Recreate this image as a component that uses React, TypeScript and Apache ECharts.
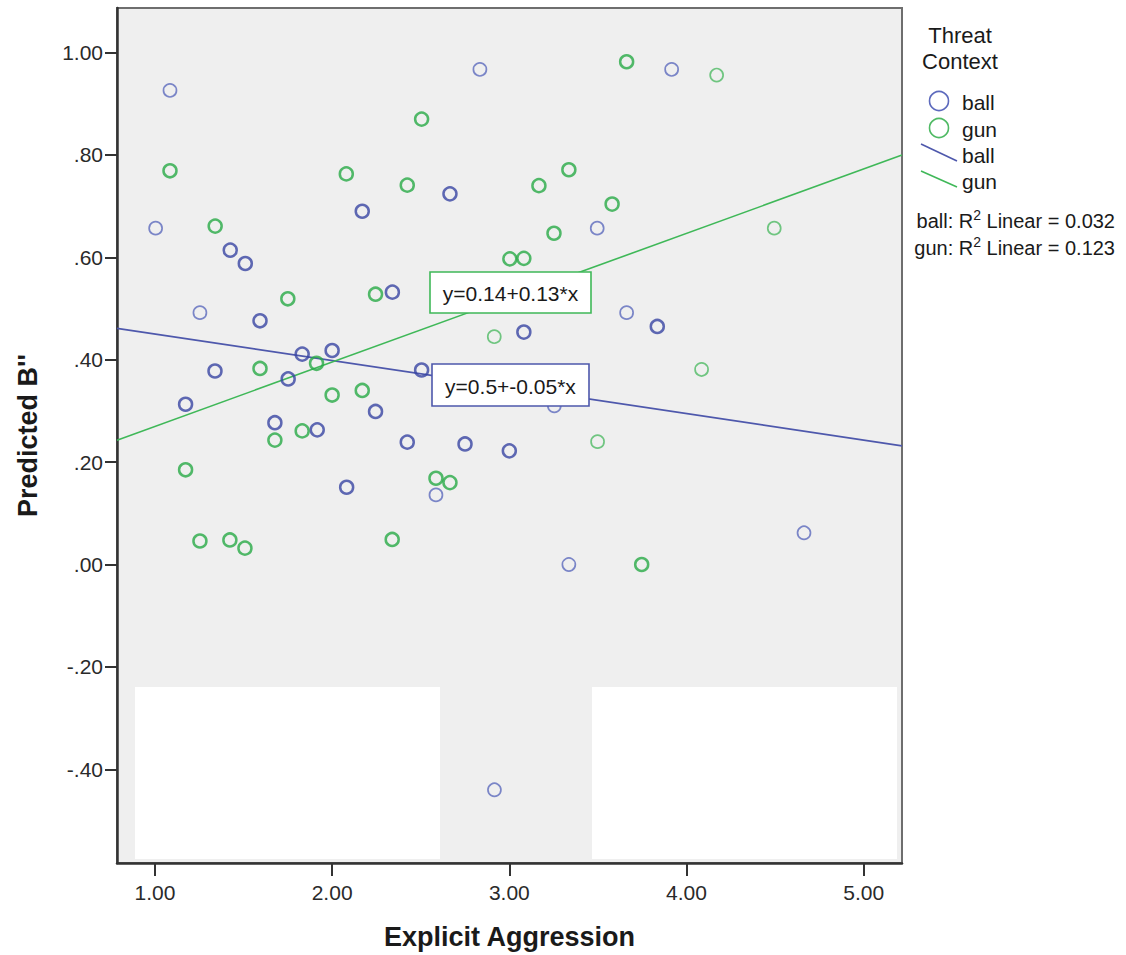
import { useEffect, useRef } from 'react';
import * as echarts from 'echarts';

// ---- data ----
const ballX = [1.085, 2.834, 3.916, 1.004, 1.425, 1.51, 2.17, 2.665, 3.496, 2.34, 1.254, 1.593, 3.082, 3.662, 3.835, 1.831, 2.0, 2.505, 1.339, 1.752, 1.173, 3.254, 2.245, 1.677, 1.916, 2.424, 2.75, 3.0, 2.082, 2.586, 3.336, 4.663, 2.916];
const ballY = [0.926, 0.967, 0.967, 0.657, 0.614, 0.588, 0.69, 0.724, 0.657, 0.532, 0.492, 0.476, 0.454, 0.492, 0.465, 0.411, 0.418, 0.38, 0.378, 0.3625, 0.313, 0.31, 0.299, 0.277, 0.263, 0.239, 0.2355, 0.222, 0.151, 0.136, 0.0, 0.062, -0.44];
const ballOverlap = [1, 1, 1, 1, 2, 2, 2, 2, 1, 2, 1, 2, 2, 1, 2, 2, 2, 2, 2, 2, 2, 1, 2, 2, 2, 2, 2, 2, 2, 1, 1, 1, 1];

const gunX = [3.662, 4.17, 2.505, 1.085, 2.08, 2.424, 3.167, 3.336, 3.58, 1.34, 3.252, 4.495, 3.003, 3.082, 2.245, 1.75, 2.915, 1.912, 1.593, 4.085, 2.0, 2.17, 1.677, 1.831, 3.498, 1.173, 2.586, 2.665, 1.254, 1.423, 1.508, 2.339, 3.747];
const gunY = [0.982, 0.956, 0.87, 0.769, 0.763, 0.741, 0.74, 0.771, 0.704, 0.661, 0.647, 0.657, 0.597, 0.598, 0.528, 0.519, 0.445, 0.393, 0.383, 0.381, 0.331, 0.34, 0.243, 0.261, 0.24, 0.185, 0.1685, 0.16, 0.046, 0.048, 0.032, 0.049, 0.0];
const gunOverlap = [2, 1, 2, 2, 2, 2, 2, 2, 2, 2, 2, 1, 2, 2, 2, 2, 1, 2, 2, 1, 2, 2, 2, 2, 1, 2, 2, 2, 2, 2, 2, 2, 2];

// regression fits: [intercept, slope]
const ballFit = [0.502, -0.0518];
const gunFit = [0.144, 0.1257];

const xRange = [0.786, 5.216];
const yRange = [-0.583, 1.087];
const xTicks = [1, 2, 3, 4, 5];
const yTicks = [-0.4, -0.2, 0, 0.2, 0.4, 0.6, 0.8, 1.0];

const groupNames = ['ball', 'gun'];
const fitTexts = ['y=0.5+-0.05*x', 'y=0.14+0.13*x'];
const r2Values = ['0.032', '0.123'];

// ---- styles ----
const FONT = '"Liberation Sans", Arial, sans-serif';
const BALL_DARK = '#3845a2';
const BALL_LIGHT = '#5d6abd';
const GUN_DARK = '#28aa46';
const GUN_LIGHT = '#4fba64';
const BALL_LINE = '#4e58ac';
const GUN_LINE = '#3fb858';

function fmtY(v: number) {
  const s = Math.abs(v).toFixed(2);
  const t = s.startsWith('0') ? s.slice(1) : s;
  return (v < -1e-9 ? '-' : '') + t;
}

function points(xs: number[], ys: number[], ov: number[], dark: string, light: string) {
  return xs.map((x, i) => ({
    value: [x, ys[i]],
    itemStyle: {
      borderColor: ov[i] > 1 ? dark : light,
      borderWidth: ov[i] > 1 ? 2.5 : 1.7,
    },
  }));
}

function fitLine(fit: number[]) {
  return [
    [xRange[0], fit[0] + fit[1] * xRange[0]],
    [xRange[1], fit[0] + fit[1] * xRange[1]],
  ];
}

export default function App() {
  const ref = useRef<HTMLDivElement>(null);
  useEffect(() => {
    const chart = echarts.init(ref.current!, null, { renderer: 'svg' });
    const gl = 117, gt = 8, gw = 785, gh = 855;
    const txt = (text: string, x: number, y: number, size: number, align = 'left', extra: any = {}) => ({
      type: 'text',
      z: 20,
      style: {
        text, x, y,
        fill: '#1a1a1a',
        font: `${size}px ${FONT}`,
        textAlign: align, textVerticalAlign: 'middle',
        align, verticalAlign: 'middle',
        ...extra,
      },
    });
    const r2Text = (name: string, val: string, y: number) => ({
      type: 'text',
      z: 20,
      style: {
        text: `{a|${name}: R}{b|2}{a| Linear = ${val}}`,
        x: 1115, y,
        align: 'right', verticalAlign: 'middle',
        textAlign: 'right', textVerticalAlign: 'middle',
        rich: {
          a: { fontSize: 20, fontFamily: FONT, fill: '#1a1a1a', color: '#1a1a1a', lineHeight: 23, verticalAlign: 'bottom' },
          b: { fontSize: 14, fontFamily: FONT, fill: '#1a1a1a', color: '#1a1a1a', lineHeight: 23, verticalAlign: 'top' },
        },
      },
    });
    const box = (text: string, x: number, y: number, w: number, h: number, stroke: string) => ({
      type: 'group',
      z: 15,
      children: [
        { type: 'rect', z: 15, shape: { x, y, width: w, height: h }, style: { fill: '#ffffff', stroke, lineWidth: 1.6 } },
        txt(text, x + w / 2, y + h / 2 + 1, 21, 'center'),
      ],
    });

    const option: any = {
      animation: false,
      backgroundColor: '#ffffff',
      grid: { left: gl, top: gt, width: gw, height: gh, show: false, containLabel: false, outerBoundsMode: 'none' },
      xAxis: {
        type: 'value',
        min: xRange[0], max: xRange[1],
        name: 'Explicit Aggression',
        nameLocation: 'middle', nameGap: 60,
        nameTextStyle: { fontFamily: FONT, fontWeight: 'bold', fontSize: 27, color: '#1a1a1a' },
        axisLine: { show: true, onZero: false, lineStyle: { color: '#333', width: 2.5 } },
        axisTick: { show: true, length: 13, customValues: xTicks, lineStyle: { color: '#333', width: 2 } },
        axisLabel: { customValues: xTicks, formatter: (v: number) => v.toFixed(2), margin: 19, fontFamily: FONT, fontSize: 21, color: '#2a2a2a' },
        splitLine: { show: false },
      },
      yAxis: {
        type: 'value',
        min: yRange[0], max: yRange[1],
        name: "Predicted B''",
        nameLocation: 'middle', nameGap: 76, nameRotate: 90,
        nameTextStyle: { fontFamily: FONT, fontWeight: 'bold', fontSize: 27, color: '#1a1a1a' },
        axisLine: { show: true, onZero: false, lineStyle: { color: '#333', width: 2.5 } },
        axisTick: { show: true, length: 12, customValues: yTicks, lineStyle: { color: '#333', width: 2 } },
        axisLabel: { customValues: yTicks, formatter: fmtY, margin: 14, fontFamily: FONT, fontSize: 21, color: '#2a2a2a' },
        splitLine: { show: false },
      },
      graphic: [
        { type: 'rect', z: -10, silent: true, shape: { x: gl, y: gt, width: gw, height: gh }, style: { fill: '#efefef' } },
        { type: 'rect', z: -9, silent: true, shape: { x: 135, y: 687, width: 305, height: 172 }, style: { fill: '#ffffff' } },
        { type: 'rect', z: -9, silent: true, shape: { x: 592, y: 687, width: 305, height: 172 }, style: { fill: '#ffffff' } },
        { type: 'rect', z: -1, silent: true, shape: { x: gl, y: gt, width: gw, height: gh }, style: { fill: 'none', stroke: '#6e6e6e', lineWidth: 2 } },
        box(fitTexts[1], 430, 272, 161, 41, GUN_LINE),
        box(fitTexts[0], 432, 364, 157, 42, BALL_LINE),
        // legend
        txt('Threat', 960, 35, 22, 'center'),
        txt('Context', 960, 61, 22, 'center'),
        { type: 'circle', z: 20, shape: { cx: 939, cy: 101, r: 9.5 }, style: { fill: 'none', stroke: BALL_LIGHT, lineWidth: 1.6 } },
        txt(groupNames[0], 962, 102, 21),
        { type: 'circle', z: 20, shape: { cx: 939, cy: 128, r: 9.5 }, style: { fill: 'none', stroke: GUN_LIGHT, lineWidth: 1.6 } },
        txt(groupNames[1], 962, 129, 21),
        { type: 'line', z: 20, shape: { x1: 921, y1: 144, x2: 957, y2: 161 }, style: { stroke: BALL_LINE, lineWidth: 1.6 } },
        txt(groupNames[0], 962, 155, 21),
        { type: 'line', z: 20, shape: { x1: 921, y1: 171, x2: 957, y2: 187 }, style: { stroke: GUN_LINE, lineWidth: 1.6 } },
        txt(groupNames[1], 962, 181, 21),
        r2Text(groupNames[0], r2Values[0], 219),
        r2Text(groupNames[1], r2Values[1], 246),
      ],
      series: [
        {
          name: 'ball fit', type: 'line', data: fitLine(ballFit), showSymbol: false, silent: true, z: 1,
          lineStyle: { color: BALL_LINE, width: 1.6 },
        },
        {
          name: 'gun fit', type: 'line', data: fitLine(gunFit), showSymbol: false, silent: true, z: 1,
          lineStyle: { color: GUN_LINE, width: 1.6 },
        },
        {
          name: 'ball', type: 'scatter', symbol: 'circle', symbolSize: 13, z: 3,
          itemStyle: { color: 'rgba(0,0,0,0)' },
          data: points(ballX, ballY, ballOverlap, BALL_DARK, BALL_LIGHT),
        },
        {
          name: 'gun', type: 'scatter', symbol: 'circle', symbolSize: 13, z: 3,
          itemStyle: { color: 'rgba(0,0,0,0)' },
          data: points(gunX, gunY, gunOverlap, GUN_DARK, GUN_LIGHT),
        },
      ],
    };
    chart.setOption(option);
    return () => chart.dispose();
  }, []);
  return (
    <div
      ref={ref}
      style={{ position: 'absolute', left: 0, top: 0, width: 1126, height: 955, background: '#fff' }}
    />
  );
}
